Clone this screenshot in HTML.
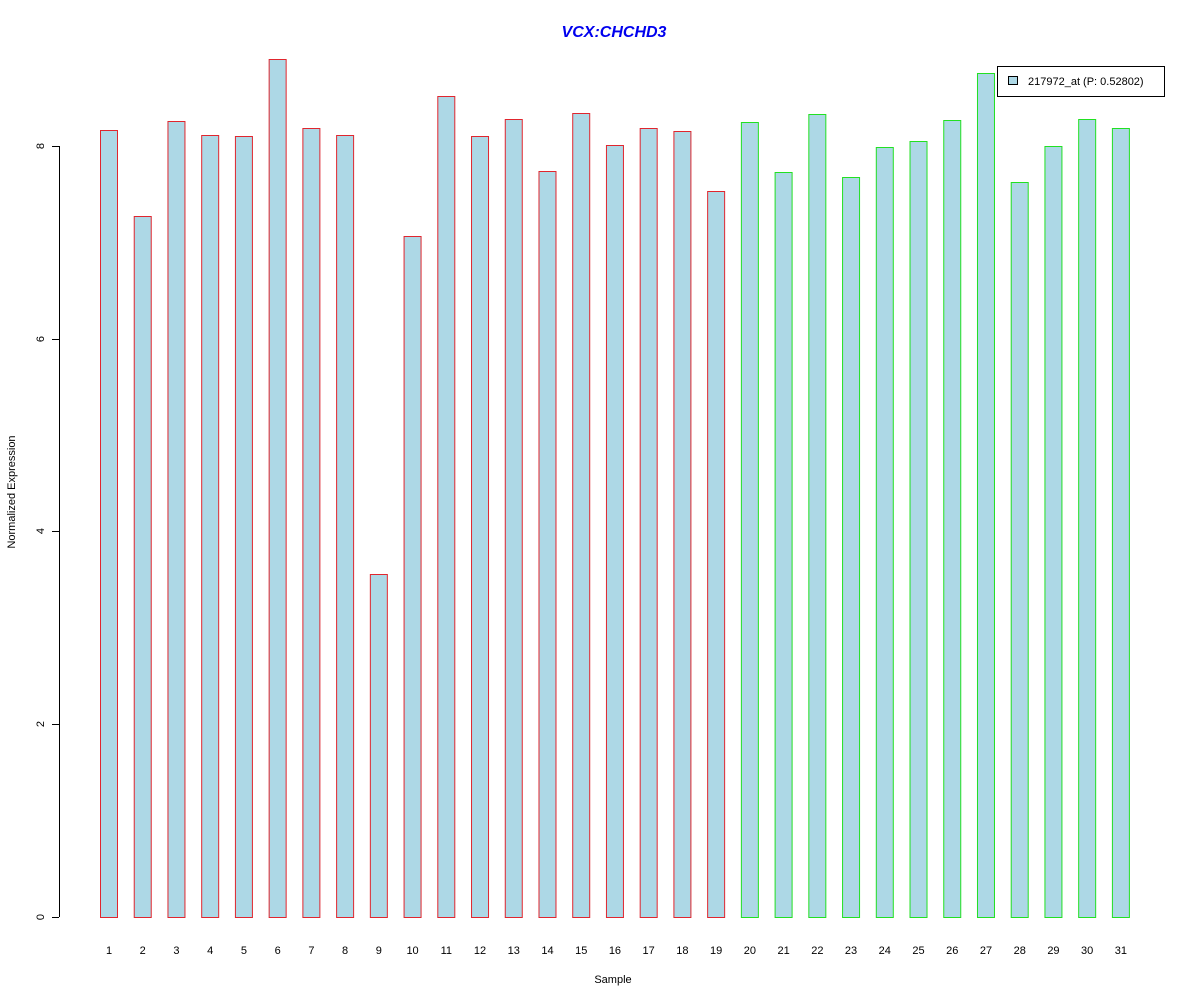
<!DOCTYPE html>
<html><head><meta charset="utf-8"><style>body{margin:0;background:#fff}svg{display:block}text{font-family:"Liberation Sans",Arial,sans-serif}</style></head>
<body>
<svg id="s" width="1200" height="1000" xmlns="http://www.w3.org/2000/svg">
<rect width="1200" height="1000" fill="#fff"/>
<text x="614" y="37" text-anchor="middle" font-size="16" font-weight="bold" font-style="italic" fill="#0000ee">VCX:CHCHD3</text>
<line x1="59.5" y1="146" x2="59.5" y2="917" stroke="#000"/>
<g stroke="#000">
<line x1="52" y1="917.5" x2="59" y2="917.5"/>
<line x1="52" y1="724.5" x2="59" y2="724.5"/>
<line x1="52" y1="531.5" x2="59" y2="531.5"/>
<line x1="52" y1="339.5" x2="59" y2="339.5"/>
<line x1="52" y1="146.5" x2="59" y2="146.5"/>
</g>
<g font-size="11" text-anchor="middle">
<text transform="translate(44,917) rotate(-90)">0</text>
<text transform="translate(44,724) rotate(-90)">2</text>
<text transform="translate(44,531) rotate(-90)">4</text>
<text transform="translate(44,339) rotate(-90)">6</text>
<text transform="translate(44,146) rotate(-90)">8</text>
<text transform="translate(15,492) rotate(-90)">Normalized Expression</text>
<text x="613" y="983">Sample</text>
</g>
<g id="bars"></g>
<rect x="997.5" y="66.5" width="167" height="30" fill="#fff" stroke="#000"/>
<rect x="1008.5" y="76.5" width="9" height="8" fill="#add8e6" stroke="#000"/>
<text x="1028" y="85" font-size="11">217972_at (P: 0.52802)</text>
</svg>
<script>
var tops=[130,216,121,135,136,59,128,135,574,236,96,136,119,171,113,145,128,131,191,122,172,114,177,147,141,120,73,182,146,119,128];
var g=document.getElementById('bars'),h='';
for(var i=0;i<31;i++){var x=100+i*33.73;var c=i<19?'#e0262e':'#22e022';
h+='<rect x="'+(x+0.5)+'" y="'+(tops[i]+0.5)+'" width="17" height="'+(917-tops[i])+'" fill="#add8e6" stroke="'+c+'"/>';
h+='<text x="'+(x+9)+'" y="954" font-size="11" text-anchor="middle">'+(i+1)+'</text>';}
g.innerHTML=h;
</script>
</body></html>
